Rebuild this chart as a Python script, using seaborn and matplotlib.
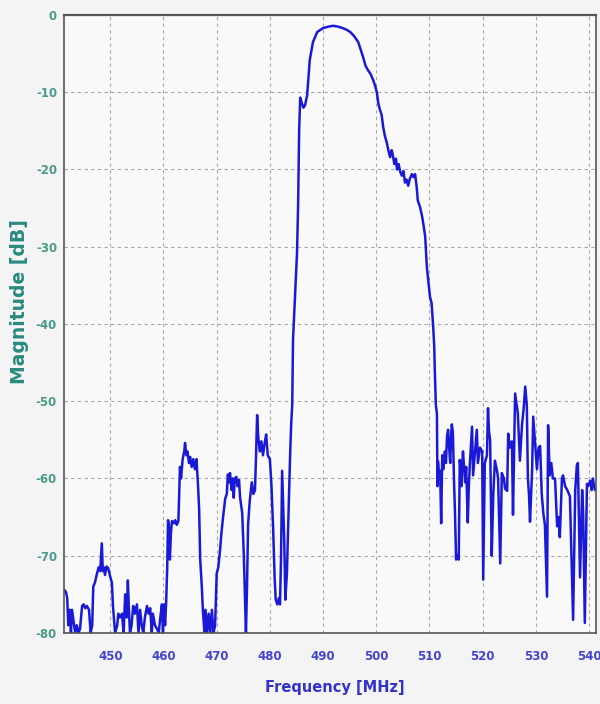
import matplotlib
matplotlib.use("Agg")
import matplotlib.pyplot as plt
import seaborn as sns
import pandas as pd

freq_mhz = [
    441.5, 441.7, 441.9, 442.1, 442.4, 442.6, 442.8, 443.1, 443.4, 443.7, 444.0, 444.3, 444.7, 445.0, 445.3,
    445.6, 446.0, 446.3, 446.6, 446.8, 447.1, 447.5, 447.8, 448.1, 448.4, 448.6, 448.8, 449.0, 449.3, 449.6,
    449.9, 450.3, 450.5, 450.9, 451.3, 451.5, 451.8, 452.2, 452.5, 452.8, 453.1, 453.3, 453.5, 453.7, 454.0,
    454.3, 454.6, 455.0, 455.3, 455.6, 455.9, 456.2, 456.5, 456.9, 457.2, 457.5, 457.8, 458.0, 458.4, 458.8,
    459.1, 459.4, 459.7, 459.9, 460.1, 460.3, 460.5, 460.7, 460.85, 461.0, 461.2, 461.4, 461.6, 462.0, 462.2,
    462.5, 462.8, 463.1, 463.3, 463.6, 463.9, 464.05, 464.3, 464.5, 464.8, 465.0, 465.3, 465.6, 465.9, 466.2,
    466.5, 466.7, 466.9, 467.2, 467.4, 467.7, 467.9, 468.2, 468.5, 468.8, 469.1, 469.4, 469.7, 470.0, 470.3,
    470.6, 470.9, 471.2, 471.6, 471.9, 472.1, 472.3, 472.5, 472.8, 473.0, 473.2, 473.4, 473.7, 473.9, 474.2,
    474.4, 474.8, 475.1, 475.3, 475.5, 475.7, 475.9, 476.2, 476.6, 476.9, 477.2, 477.4, 477.6, 477.8, 478.1,
    478.4, 478.7, 479.0, 479.3, 479.6, 480.0, 480.3, 480.6, 480.9, 481.1, 481.4, 481.7, 481.9, 482.1, 482.3,
    482.5, 482.7, 482.9, 483.2, 483.4, 483.6, 483.8, 484.0, 484.2, 484.35,
    485.1, 485.3, 485.5, 485.7, 486.0, 486.3, 486.6, 487.0, 487.5, 488.1, 488.9, 490.0, 491.0, 491.9, 492.8,
    493.7, 494.4, 495.1, 495.8, 496.6, 497.5, 498.0, 498.4, 498.9, 499.4, 499.8, 500.1, 500.4, 500.7, 501.0,
    501.3, 501.6, 502.0, 502.3, 502.6, 502.9, 503.1, 503.4, 503.7, 503.9, 504.2, 504.5, 504.8, 505.1, 505.4,
    505.7, 506.0, 506.3, 506.7, 507.0, 507.3, 507.6, 507.8, 508.2, 508.6, 508.9, 509.2, 509.5, 509.8, 510.1,
    510.4, 510.7, 510.9, 511.0, 511.2, 511.4, 511.5, 511.6, 511.8, 512.0, 512.2, 512.4, 512.6, 512.9, 513.1,
    513.3, 513.5, 513.7, 513.9, 514.1, 514.2, 514.4, 514.6, 514.8, 515.0, 515.2, 515.5, 515.7, 516.0, 516.1,
    516.3, 516.7, 516.9, 517.2, 517.4, 517.6, 518.0, 518.2, 518.5, 518.9, 519.1, 519.5, 519.9, 520.1, 520.4,
    520.8, 521.0, 521.2, 521.4, 521.7, 522.0, 522.3, 522.7, 522.9, 523.3, 523.6, 524.0, 524.2, 524.6, 524.8,
    525.1, 525.5, 525.7, 526.1, 526.4, 526.6, 527.0, 527.4, 527.7, 528.0, 528.3, 528.5, 528.7, 528.9, 529.3,
    529.5, 529.8, 530.2, 530.5, 530.8, 531.1, 531.4, 531.7, 532.1, 532.3, 532.6, 532.9, 533.2, 533.6, 534.0,
    534.3, 534.5, 534.9, 535.1, 535.5, 535.9, 536.2, 536.4, 536.8, 537.0, 537.4, 537.7, 537.9, 538.3, 538.7,
    538.9, 539.2, 539.6, 539.8, 540.2, 540.5, 540.7, 541.1,
]

magnitude_db = [
    -74.5, -74.8, -75.5, -79, -77, -80, -77, -78.5, -80, -79, -80, -79.5, -76.5, -76.3, -76.8,
    -76.5, -77, -80, -79, -74, -73.5, -72.3, -71.5, -72, -68.4, -72, -71.5, -72.5, -71.4, -71.6,
    -72.5, -73.5, -76.5, -80, -79, -77.5, -78, -77.5, -80, -75, -78, -73.2, -77, -80, -79,
    -76.5, -77.5, -76.3, -80, -77, -79, -80, -78, -76.5, -77.5, -76.8, -80, -77.5, -79, -79.5,
    -80, -78, -76.3, -80, -76.3, -79, -76, -71.5, -65.4, -66, -70.5, -67, -65.5, -65.8, -65.4,
    -66, -65.5, -58.5, -60, -57.5, -56.5, -55.4, -57, -56.5, -58, -57.2, -58.5, -57.5, -58.8, -57.5,
    -61, -64, -70.5, -74, -77, -80, -77, -80, -77.5, -80, -77, -80, -79, -72.3, -71.5,
    -69.5, -67, -65, -62.6, -62, -59.5, -60.5, -59.3, -61.5, -60, -62.5, -60, -59.8, -61, -60.2,
    -62.5, -64.5, -70, -75, -80, -74, -66, -63, -60.5, -62, -61.5, -57, -51.8, -54.5, -56.5,
    -55.2, -57, -55.5, -54.3, -57, -57.5, -61, -66.3, -73, -75.7, -76.3, -75.5, -76.3, -70, -59,
    -63.7, -68, -75.7, -72.3, -67, -62, -57, -53, -50.5, -42,
    -30.8, -24.8, -14.9, -10.7, -11.4, -12, -11.7, -10.4, -5.8, -3.5, -2.2, -1.7, -1.5, -1.4, -1.5,
    -1.7, -1.9, -2.2, -2.7, -3.5, -5.4, -6.6, -7.1, -7.6, -8.4, -9.2, -10, -11.5, -12.3, -12.9,
    -14.5, -15.6, -16.6, -17.6, -18.4, -17.5, -18.1, -19.3, -18.6, -20, -19.3, -20.3, -20.8, -20.2, -21.7,
    -21.3, -22.1, -21.2, -20.6, -21, -20.6, -22.3, -24, -24.8, -26, -27.3, -28.7, -32.6, -34.5, -36.5,
    -37.3, -40.4, -43, -46, -50.5, -51.6, -61, -57.8, -59.5, -59, -65.8, -57, -58.8, -56.5, -58,
    -54.5, -53.7, -56, -58, -54, -53, -54, -60, -64.5, -70.5, -70, -70.5, -57.6, -61, -59,
    -56.5, -60.5, -58.5, -65.7, -61, -58, -53.3, -59.6, -57, -53.7, -58, -56, -56.5, -73.1, -58,
    -57, -50.9, -54, -55, -70, -62, -57.7, -59, -60, -71, -59.3, -60, -61.3, -61.6, -54.2,
    -56, -55.2, -64.7, -49, -50.5, -51.5, -57.7, -53, -51, -48.1, -50.5, -60, -62, -65.6, -58.8,
    -52, -55, -58.8, -56, -55.8, -62, -64.5, -66, -75.3, -53.1, -59.6, -58, -60, -60, -66.2,
    -65, -67.6, -60, -59.6, -61, -61.5, -62, -62.3, -72.8, -78.3, -61.5, -58.3, -58, -72.8, -61.5,
    -64.7, -78.7, -60.7, -61, -60.3, -61.5, -60, -61.5,
]

x_ticks = [450, 460, 470, 480, 490, 500, 510, 520, 530, 540]
y_ticks = [0, -10, -20, -30, -40, -50, -60, -70, -80]

df = pd.DataFrame({"Frequency": freq_mhz, "Magnitude": magnitude_db})

sns.set_theme(style="whitegrid")
plt.rcParams["font.family"] = ["DejaVu Sans"]
plt.rcParams["axes.unicode_minus"] = False

fig = plt.figure(figsize=(6.0, 7.04), dpi=100, facecolor="#f4f4f4")
ax = fig.add_axes([0.1067, 0.1009, 0.8866, 0.8778])
ax.set_facecolor("#f9f9f9")

sns.lineplot(data=df, x="Frequency", y="Magnitude", ax=ax, sort=False,
             estimator=None, color="#1a1ad6", linewidth=1.8)

ax.set_xlim(441.3, 541.3)
ax.set_ylim(-80, 0)
ax.set_xticks(x_ticks)
ax.set_yticks(y_ticks)
ax.set_xticklabels([str(v) for v in x_ticks])
ax.set_yticklabels([str(v) for v in y_ticks])

ax.grid(True, color="#a8a8a8", linestyle=(0, (3, 3)), linewidth=0.8)
for s in ax.spines.values():
    s.set_color("#555555")
    s.set_linewidth(1.2)
ax.spines["top"].set_linewidth(1.6)

ax.tick_params(axis="both", direction="in", length=5, width=1.2, color="#333333")
ax.tick_params(axis="x", colors="#333333", labelcolor="#4444cc", labelsize=8.5, pad=12)
ax.tick_params(axis="y", colors="#333333", labelcolor="#4a9a8a", labelsize=8.5, pad=5)
for lbl in ax.get_xticklabels() + ax.get_yticklabels():
    lbl.set_fontweight("bold")
    lbl.set_family(["Liberation Sans Narrow", "DejaVu Sans"])

ax.set_xlabel("Frequency [MHz]", color="#3333cc", fontsize=10.5, fontweight="bold")
ax.set_ylabel("Magnitude [dB]", color="#2a8a80", fontsize=13.5, fontweight="bold")
ax.xaxis.set_label_coords(0.509, -0.089)
ax.yaxis.set_label_coords(-0.0846, 0.536)
ax.xaxis.label.set_verticalalignment("center")
ax.yaxis.label.set_verticalalignment("center")

fig.savefig("out.png", dpi=100, facecolor=fig.get_facecolor())
